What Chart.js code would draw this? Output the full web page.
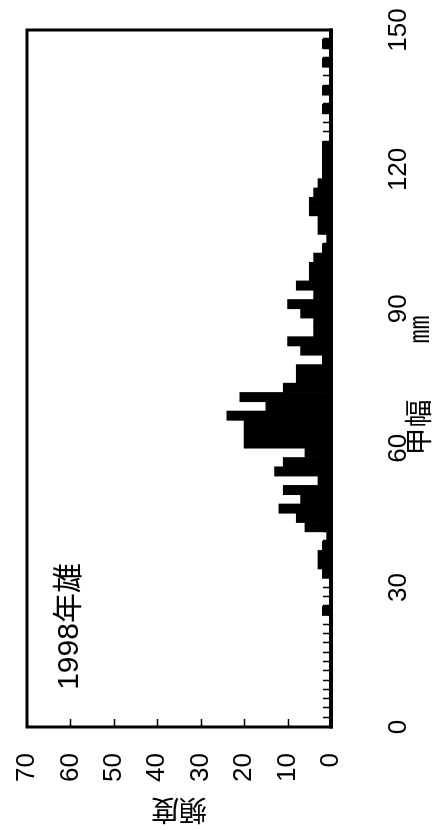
<!DOCTYPE html>
<html><head><meta charset="utf-8">
<script src="https://cdn.jsdelivr.net/npm/chart.js@4/dist/chart.umd.min.js"></script>
<style>
html,body{margin:0;padding:0;background:#fff;width:432px;height:830px;overflow:hidden;}
#wrap{position:absolute;left:0;top:0;width:830px;height:432px;transform-origin:0 0;transform:translateY(830px) rotate(-90deg);}
canvas{display:block;}
</style></head><body>
<div id="wrap"><canvas id="c" width="830" height="432"></canvas></div>
<script>
// 2 mm bins: start of each bin (mm)
const binStarts = [0,2,4,6,8,10,12,14,16,18,20,22,24,26,28,30,32,34,36,38,40,42,44,46,48,50,52,54,56,58,60,62,64,66,68,70,72,74,76,78,80,82,84,86,88,90,92,94,96,98,100,102,104,106,108,110,112,114,116,118,120,122,124,126,128,130,132,134,136,138,140,142,144,146,148];
const counts    = [0,0,0,0,0,0,0,0,0,0,0,0,2,0,0,0,2,3,3,2,1,6,8,12,7,11,3,13,11,6,20,20,20,24,15,21,11,8,8,2,7,10,4,4,7,10,4,8,5,5,4,2,1,3,3,5,5,4,3,2,2,2,2,0,0,0,2,0,2,0,0,2,0,2,0];
const widthTicks = [0,30,60,90,120,150];
const freqTicks = [0,10,20,30,40,50,60,70];
const xTitle = '甲幅　　㎜\u2002';
const yTitle = '頻度';
const note = '1998年雄';
const noteAt = {x: 8, y: 58.2};

function hasFont(name) {
  const c = document.createElement('canvas').getContext('2d');
  const t = '0123456789 mmWw';
  c.font = '40px monospace'; const a = c.measureText(t).width;
  c.font = '40px "' + name + '", monospace'; const b = c.measureText(t).width;
  c.font = '40px serif'; const d = c.measureText(t).width;
  c.font = '40px "' + name + '", serif'; const e = c.measureText(t).width;
  return a !== b || d !== e;
}
const narrow = hasFont('Liberation Sans Narrow');
const tickFont = narrow
  ? {family: '"Liberation Sans Narrow"', size: 28}
  : {family: '"Liberation Sans", Arial, sans-serif', size: 26};
const cjkFont = '"Noto Sans CJK JP","Noto Sans CJK SC",sans-serif';

const framePlugin = {
  id: 'frame',
  afterDatasetsDraw(chart) {
    const {ctx, chartArea: a, scales: {x, y}} = chart;
    ctx.save();
    ctx.strokeStyle = '#000';
    ctx.lineWidth = 1.5;
    ctx.beginPath();
    for (let v = 2; v < 150; v += 2) {
      const px = Math.round(x.getPixelForValue(v)) + 0.5;
      ctx.moveTo(px, a.bottom);
      ctx.lineTo(px, a.bottom - 8);
    }
    for (const v of freqTicks) {
      if (v === 0 || v === 70) continue;
      const py = Math.round(y.getPixelForValue(v)) + 0.5;
      ctx.moveTo(a.left, py);
      ctx.lineTo(a.left + 8, py);
    }
    ctx.stroke();
    ctx.lineWidth = 3;
    ctx.strokeRect(a.left, a.top, a.right - a.left, a.bottom - a.top);
    ctx.lineWidth = 4;
    ctx.beginPath();
    ctx.moveTo(a.left - 1.5, a.bottom);
    ctx.lineTo(a.right + 1.5, a.bottom);
    ctx.stroke();
    ctx.fillStyle = '#000';
    ctx.font = '30px "Liberation Sans","Noto Sans CJK JP",sans-serif';
    ctx.textBaseline = 'alphabetic';
    ctx.textAlign = 'left';
    ctx.fillText(note, x.getPixelForValue(noteAt.x), y.getPixelForValue(noteAt.y));
    ctx.restore();
  }
};

new Chart(document.getElementById('c'), {
  type: 'bar',
  data: {
    datasets: [{
      data: binStarts.map((s, i) => ({x: s + 1, y: counts[i]})),
      backgroundColor: '#000',
      borderWidth: 0,
      barPercentage: 1,
      categoryPercentage: 1
    }]
  },
  options: {
    responsive: false,
    animation: false,
    devicePixelRatio: 1,
    layout: {padding: {top: 27, right: 30, left: 0, bottom: 0}},
    plugins: {legend: {display: false}, tooltip: {enabled: false}},
    scales: {
      x: {
        type: 'linear', min: 0, max: 150, offset: false,
        grid: {display: false, drawTicks: false},
        border: {display: false},
        ticks: {color: '#000', font: tickFont, padding: 52, autoSkip: false, maxRotation: 0},
        afterBuildTicks: s => { s.ticks = widthTicks.map(v => ({value: v})); },
        afterFit: s => { s.height = 101; s.paddingLeft = 0; s.paddingRight = 0; },
        title: {display: true, text: xTitle, color: '#000', font: {family: cjkFont, size: 28}, padding: {top: 0, bottom: -3}}
      },
      y: {
        type: 'linear', min: 0, max: 70,
        grid: {display: false, drawTicks: false},
        border: {display: false},
        ticks: {color: '#000', font: tickFont, padding: 26},
        afterBuildTicks: s => { s.ticks = freqTicks.map(v => ({value: v})); },
        afterFit: s => { s.width = 103; s.paddingTop = 0; s.paddingBottom = 0; },
        title: {display: true, text: yTitle, color: '#000', font: {family: cjkFont, size: 28}, padding: {top: 3, bottom: 0}}
      }
    }
  },
  plugins: [framePlugin]
});
</script>
</body></html>
